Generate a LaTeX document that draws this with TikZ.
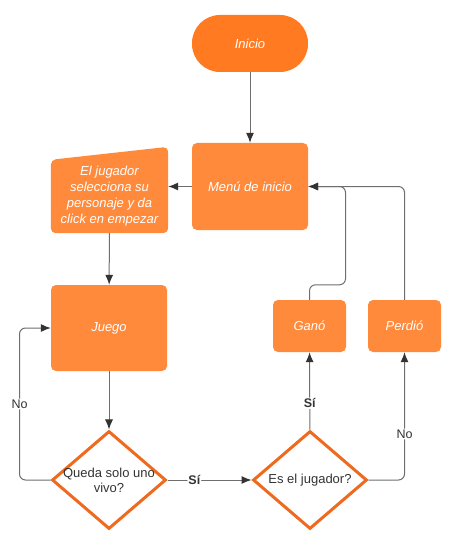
\documentclass[tikz,border=0pt]{standalone}
\usepackage{fontspec}
\setmainfont{Liberation Sans}
\usetikzlibrary{arrows.meta,shapes.geometric,backgrounds}

\definecolor{naranja}{HTML}{FF8A3B}
\definecolor{naranjaosc}{HTML}{FF7A21}
\definecolor{borde}{HTML}{EE6A1E}
\definecolor{linea}{HTML}{6E6E6E}
\definecolor{punta}{HTML}{333333}
\definecolor{texto}{HTML}{333333}

\tikzstyle{line} = [draw=linea, line width=1pt, rounded corners=6pt, -{Latex[length=10pt,width=8pt,color=punta]}]
\tikzstyle{caja} = [rectangle, rounded corners=5pt, fill=naranja, text=white, inner sep=0pt, align=center, font=\fontsize{13}{16}\selectfont\itshape]
\tikzstyle{inicio} = [caja, fill=naranjaosc, rounded corners=28pt]
\tikzstyle{rombo} = [diamond, draw=borde, line width=3pt, fill=white, inner sep=0pt, minimum width=114pt, minimum height=98pt]
\tikzstyle{pregunta} = [text=texto, align=center, font=\fontsize{13}{15}\selectfont]
\tikzstyle{etiqueta} = [fill=white, text=texto, inner sep=1pt, font=\fontsize{12.5}{14}\selectfont]
\tikzstyle{si} = [etiqueta, font=\fontsize{12.5}{14}\selectfont\bfseries]

\begin{document}
\begin{tikzpicture}[x=1pt,y=-1pt]
	\useasboundingbox (0,0) rectangle (452,540);
	\node[inicio, minimum width=116pt, minimum height=57pt] (inicio) at (250,43.5) {Inicio};
	\node[caja, minimum width=116pt, minimum height=87pt] (menu) at (250,186.5) {Menú de inicio};
	\node[caja, fill=none, minimum width=117pt, minimum height=73pt] (elegir) at (109.5,196.5) {El jugador\\selecciona su\\personaje y da\\click en empezar};
	\begin{scope}[on background layer] % forma de entrada manual
		\fill[naranja, rounded corners=5pt] (elegir.north west) -- ([yshift=13pt]elegir.north east) -- (elegir.south east) -- (elegir.south west) -- cycle;
	\end{scope}
	\node[caja, minimum width=116pt, minimum height=86pt] (juego) at (109,328) {Juego};
	\node[caja, minimum width=73pt, minimum height=52pt] (gano) at (309.5,326) {Ganó};
	\node[caja, minimum width=73pt, minimum height=52pt] (perdio) at (404.5,326) {Perdió};
	\node[rombo] (vivo) at (109,480) {};
	\node[pregunta] (vivotxt) at (vivo) {Queda solo uno\\vivo?};
	\node[rombo] (jugador) at (310,480) {};
	\node[pregunta] (jugadortxt) at (jugador) {Es el jugador?};

	\draw[line] (inicio) -- (menu);
	\draw[line] (menu.west) -- (menu.west -| elegir.east);
	\draw[line] (elegir) -- (juego);
	\draw[line] (juego) -- (vivo);
	\draw[line] (vivo) -- node[si, pos=0.32] {Sí} (jugador);
	\draw[line] (vivo.west) -- ++(-31,0) |- node[etiqueta, pos=0.25] {No} (juego.west);
	\draw[line] (jugador) -- node[si, pos=0.34] {Sí} (gano);
	\draw[line] (jugador.east) -| node[etiqueta, pos=0.68] {No} (perdio);
	\draw[line] (gano.north) -- ++(0,-15) -- ++(36,0) |- (menu.east);
	\draw[line] (perdio.north) |- (menu.east);
\end{tikzpicture}
\end{document}
